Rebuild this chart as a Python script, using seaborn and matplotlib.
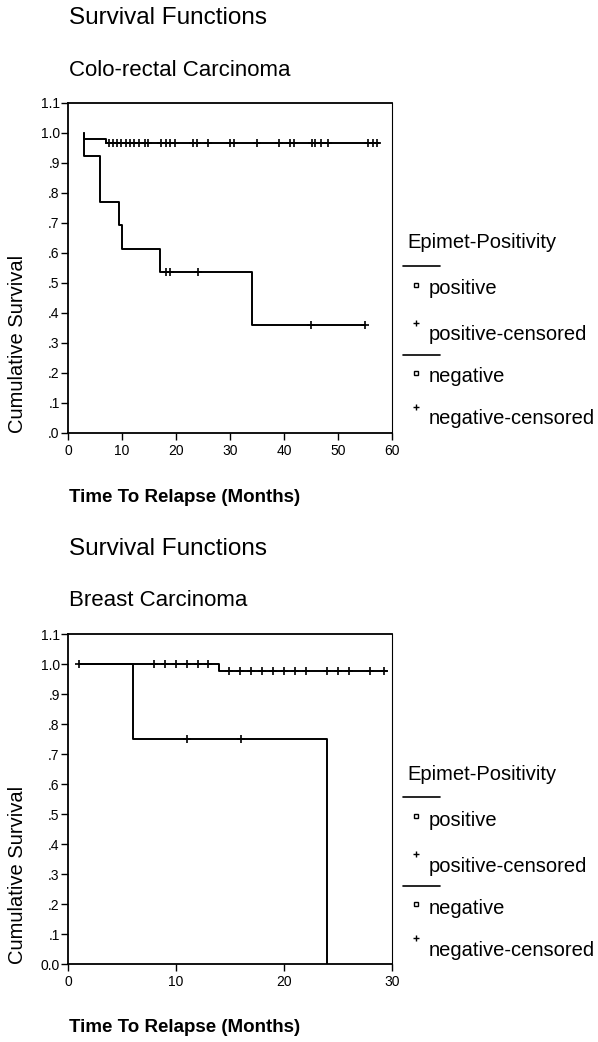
import matplotlib
matplotlib.use("Agg")
import matplotlib.pyplot as plt
import pandas as pd
import seaborn as sns
from matplotlib.lines import Line2D

# colo-rectal carcinoma, step curves (time in months, cumulative survival)
crc_pos_time = [3, 3, 6, 9.5, 10, 17, 34, 55]
crc_pos_surv = [1.0, 0.923, 0.769, 0.692, 0.615, 0.538, 0.359, 0.359]
crc_pos_cens_time = [18.1, 18.9, 24, 45, 55]
crc_pos_cens_surv = [0.538, 0.538, 0.538, 0.359, 0.359]

crc_neg_time = [3, 3, 7, 57.5]
crc_neg_surv = [1.0, 0.98, 0.967, 0.967]
crc_neg_cens_time = [7.5, 8.4, 9.1, 9.9, 10.7, 11.5, 12.2, 13.1, 14.3, 14.9, 17.3, 18.1, 18.9,
                     19.8, 23.2, 23.9, 26, 30, 30.7, 35, 39.1, 41.1, 41.9, 45.1, 45.7, 46.9,
                     48.2, 55.5, 56.5, 57.3]
crc_neg_cens_surv = [0.967] * len(crc_neg_cens_time)

# breast carcinoma
br_pos_time = [1, 6, 24]
br_pos_surv = [1.0, 0.75, 0.0]
br_pos_cens_time = [11, 16]
br_pos_cens_surv = [0.75, 0.75]

br_neg_time = [1, 14, 29.5]
br_neg_surv = [1.0, 0.978, 0.978]
br_neg_cens_time = [1, 8, 9, 10, 11, 12, 13, 14.9, 15.9, 16.9, 18, 19, 20, 21, 22, 24, 25, 26, 28, 29.3]
br_neg_cens_surv = [1.0] * 7 + [0.978] * 13

y_ticks = [0.0, 0.1, 0.2, 0.3, 0.4, 0.5, 0.6, 0.7, 0.8, 0.9, 1.0, 1.1]
crc_ytick_labels = [".0", ".1", ".2", ".3", ".4", ".5", ".6", ".7", ".8", ".9", "1.0", "1.1"]
br_ytick_labels = ["0.0", ".1", ".2", ".3", ".4", ".5", ".6", ".7", ".8", ".9", "1.0", "1.1"]

legend_labels = ["positive", "positive-censored", "negative", "negative-censored"]

sns.set_style("ticks")
plt.rcParams['font.family'] = ['Liberation Sans', 'DejaVu Sans']
plt.rcParams['text.color'] = 'black'
plt.rcParams['axes.labelcolor'] = 'black'
plt.rcParams['axes.edgecolor'] = 'black'
plt.rcParams['xtick.color'] = 'black'
plt.rcParams['ytick.color'] = 'black'

W, H = 598, 1042
fig = plt.figure(figsize=(W / 100, H / 100), dpi=100)


def fx(x):
    return x / W


def fy(y):
    return 1 - y / H


def draw_panel(top, subtitle, xmax, ytick_labels, curves):
    ax = fig.add_axes([fx(68), fy(top + 330), fx(324), 330 / H])
    for t, s, ct, cs in curves:
        df_line = pd.DataFrame({'time': t, 'survival': s})
        sns.lineplot(data=df_line, x='time', y='survival', ax=ax, color='black', lw=1.4,
                     drawstyle='steps-post', sort=False, estimator=None)
        df_cens = pd.DataFrame({'time': ct, 'survival': cs})
        sns.scatterplot(data=df_cens, x='time', y='survival', ax=ax, marker='+', color='black',
                        s=40, linewidth=1.2, zorder=3)

    ax.set_xlim(0, xmax)
    ax.set_ylim(0, 1.1)
    ax.set_xticks(list(range(0, xmax + 1, 10)))
    ax.set_yticks(y_ticks)
    ax.set_yticklabels(ytick_labels)
    ax.tick_params(direction='out', length=5, width=1, labelsize=10, pad=1)
    ax.tick_params(axis='x', pad=3)
    for side in ['left', 'bottom', 'top']:
        ax.spines[side].set_visible(True)
        ax.spines[side].set_linewidth(1.3)
    ax.spines['right'].set_visible(True)
    ax.spines['right'].set_linewidth(0.8)

    ax.set_xlabel('Time To Relapse (Months)', fontsize=13.5, fontweight='bold')
    ax.xaxis.set_label_coords(1 / 324, -64 / 330)
    ax.xaxis.label.set_horizontalalignment('left')
    ax.xaxis.label.set_verticalalignment('center')

    ax.set_ylabel('Cumulative Survival', loc='bottom', fontsize=14.5)
    ax.yaxis.set_label_coords(-41 / 324, 0)

    fig.text(fx(69), fy(top - 85), 'Survival Functions', fontsize=17.5, va='center', ha='left')
    fig.text(fx(69), fy(top - 33), subtitle, fontsize=16, va='center', ha='left')

    # SPSS style legend at the right of the panel
    fig.text(fx(407), fy(top + 140), 'Epimet-Positivity', fontsize=14.5, va='center', ha='left')
    rows = [(186, 's'), (232, '+'), (274, 's'), (316, '+')]
    for (dy, m), lab in zip(rows, legend_labels):
        fig.text(fx(429), fy(top + dy), lab, fontsize=14.5, va='center', ha='left')
        off = 4 if m == 's' else 12
        fig.add_artist(Line2D([fx(416)], [fy(top + dy - off)], marker=m, color='black',
                              markersize=3.5 if m == 's' else 5, mfc='white', mew=1,
                              linestyle='none'))
    for dy in [163, 252]:
        fig.add_artist(Line2D([fx(403), fx(440)], [fy(top + dy)] * 2, color='black', lw=1.2))
    return ax


draw_panel(103, 'Colo-rectal Carcinoma', 60, crc_ytick_labels,
           [(crc_neg_time, crc_neg_surv, crc_neg_cens_time, crc_neg_cens_surv),
            (crc_pos_time, crc_pos_surv, crc_pos_cens_time, crc_pos_cens_surv)])
draw_panel(634, 'Breast Carcinoma', 30, br_ytick_labels,
           [(br_neg_time, br_neg_surv, br_neg_cens_time, br_neg_cens_surv),
            (br_pos_time, br_pos_surv, br_pos_cens_time, br_pos_cens_surv)])

fig.savefig('out.png', dpi=100)
